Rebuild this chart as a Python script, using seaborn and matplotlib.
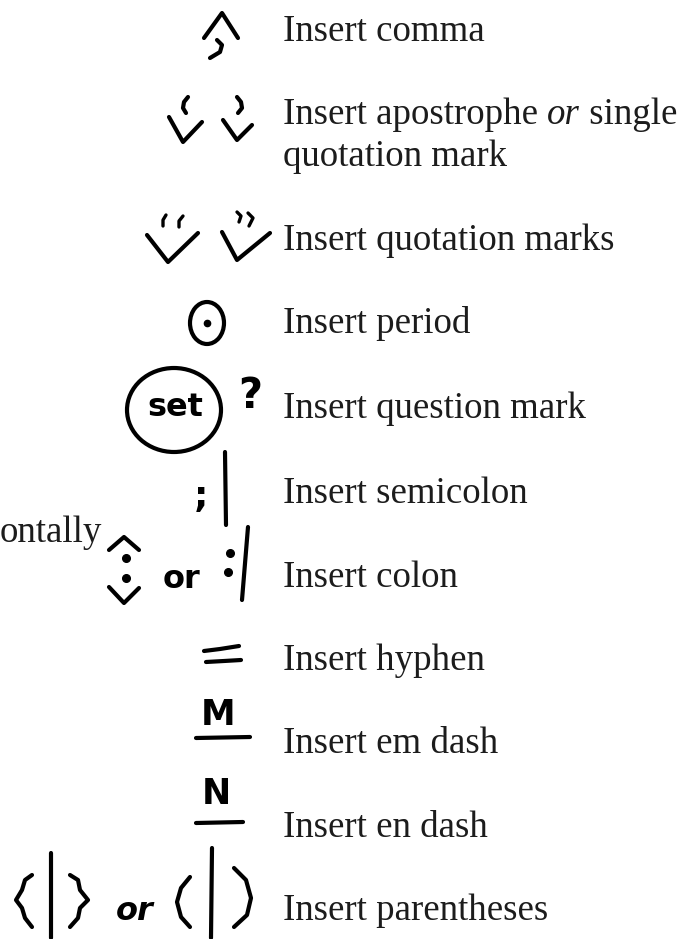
import numpy as np
import matplotlib
matplotlib.use("Agg")
import matplotlib.pyplot as plt
from matplotlib.patches import Ellipse
import seaborn as sns

# labels for each proofreading mark, top to bottom
labels = [
    "Insert comma",
    ["Insert apostrophe ", "or", " single"],
    "quotation mark",
    "Insert quotation marks",
    "Insert period",
    "Insert question mark",
    "Insert semicolon",
    "Insert colon",
    "Insert hyphen",
    "Insert em dash",
    "Insert en dash",
    "Insert parentheses",
]
# baseline of each label (pixels from top)
label_baselines = [41, 124, 166, 250, 333, 418, 503, 587, 670, 753, 837, 920]
side_note = "ontally"

sns.set_theme(style="white")
plt.rcParams['font.family'] = ['Liberation Serif', 'DejaVu Serif']

fig = plt.figure(figsize=(6.8, 9.39), dpi=100)
ax = fig.add_axes([0, 0, 1, 1])
ax.set_xlim(0, 680)
ax.set_ylim(939, 0)
ax.axis('off')

LW = 3.0
FS = 26.6
HAND = ['DejaVu Sans']
TXT = '#1c1c1c'
renderer = fig.canvas.get_renderer()


def stroke(pts, lw=LW):
    pts = np.array(pts, dtype=float)
    sns.lineplot(x=pts[:, 0], y=pts[:, 1], sort=False, estimator=None,
                 color='black', lw=lw, ax=ax, solid_capstyle='round',
                 solid_joinstyle='round')


def dot(x, y, s=5.5):
    ax.plot([x], [y], 'o', color='black', ms=s)


def hand(x, y, s, size, **kw):
    ax.text(x, y, s, fontsize=size, family=HAND, weight='bold',
            ha='center', va='center', color='black', **kw)


# text labels
for lab, yb in zip(labels, label_baselines):
    if isinstance(lab, list):
        x = 283
        for i, part in enumerate(lab):
            t = ax.text(x, yb, part, fontsize=FS, va='baseline', ha='left', color=TXT,
                        style='italic' if i == 1 else 'normal')
            bb = t.get_window_extent(renderer)
            x += bb.width
    else:
        ax.text(283, yb, lab, fontsize=FS, va='baseline', ha='left', color=TXT)
ax.text(0, 542, side_note, fontsize=FS, va='baseline', ha='left', color=TXT)

# comma
stroke([(204, 38), (222, 13), (238, 38)])
stroke([(217, 40), (222, 45), (220, 52), (210, 58)])

# apostrophe
stroke([(188, 97), (184, 102), (183, 108), (186, 113)])
stroke([(169, 117), (183, 142), (202, 122)])
stroke([(237, 97), (241, 102), (242, 108), (238, 113)])
stroke([(223, 120), (237, 140), (252, 125)])

# quotation marks
stroke([(147, 235), (168, 262), (198, 233)])
stroke([(166, 215), (163, 220), (163, 226)], lw=2.4)
stroke([(183, 216), (179, 221), (179, 227)], lw=2.4)
stroke([(222, 232), (237, 260), (270, 233)])
stroke([(237, 212), (241, 216), (239, 222)], lw=2.4)
stroke([(248, 213), (253, 218), (249, 226)], lw=2.4)

# period
ax.add_patch(Ellipse((207, 323), 34, 42, fill=False, lw=LW, color='black'))
dot(207, 323, 4.5)

# question mark
ax.add_patch(Ellipse((174, 410), 94, 84, fill=False, lw=LW, color='black'))
hand(175, 408, "set", 23)
hand(250, 396, "?", 30)

# semicolon
stroke([(225, 452), (226, 525)])
hand(201, 497, ";", 26)

# colon
stroke([(109, 550), (124, 537), (139, 550)])
dot(126, 558)
dot(126, 578)
stroke([(109, 587), (124, 603), (139, 588)])
hand(181, 579, "or", 23)
dot(230, 553)
dot(228, 572)
stroke([(248, 527), (242, 600)])

# hyphen
stroke([(204, 651), (220, 649), (239, 646)])
stroke([(206, 662), (224, 661), (241, 660)])

# em dash
hand(218, 715, "M", 25)
stroke([(196, 738), (250, 737)])

# en dash
hand(216, 794, "N", 25)
stroke([(196, 823), (243, 822)])

# parentheses
stroke([(32, 875), (25, 880), (22, 890), (16, 900), (22, 908), (25, 918), (32, 927)])
stroke([(51, 853), (51, 938)])
stroke([(70, 875), (78, 880), (80, 890), (88, 900), (80, 908), (78, 918), (70, 927)])
hand(135, 912, "or", 23, style='italic')
stroke([(190, 877), (181, 888), (177, 902), (181, 917), (190, 927)])
stroke([(212, 848), (211, 938)])
stroke([(234, 868), (246, 880), (251, 898), (247, 915), (234, 927)])

fig.savefig("out.png", dpi=100)
